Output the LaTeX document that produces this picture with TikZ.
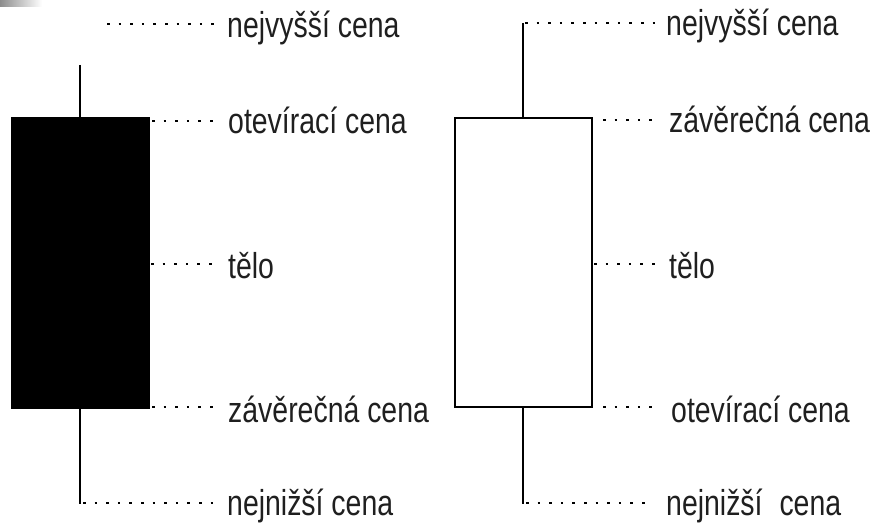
\documentclass[tikz,border=0pt]{standalone}
\usepackage{fontspec}
\newfontfamily\lblfont[FakeStretch=0.79]{Liberation Sans}
\begin{document}
\begin{tikzpicture}[x=1pt,y=-1pt,
  lbl/.style={font=\lblfont\fontsize{36}{40}\selectfont, anchor=base west, inner sep=0pt, text=black!88},
  dots/.style={line width=2pt, dash pattern=on 2.6pt off 9pt},
  wick/.style={line width=2pt},
  bodybox/.style={line width=2.4pt}]
\useasboundingbox (0,0) rectangle (881,524);
% corner artifact
\shade[left color=black!45, right color=white] (0,0) rectangle (42,7);

% ---- left (bearish) candle
\coordinate (Lwt) at (80,65);
\coordinate (Lwb) at (80,504);
\draw[wick] (Lwt) -- (Lwb);
\node[draw=black, fill=black, bodybox, minimum width=137pt, minimum height=290pt, inner sep=0pt] (Lbody) at (80.5,263) {};

\coordinate (La1) at (107,24);  \coordinate (La2) at (217,24);
\coordinate (Lb1) at (152,121); \coordinate (Lb2) at (216,121);
\coordinate (Lc1) at (151,264); \coordinate (Lc2) at (217,264);
\coordinate (Ld1) at (152,407); \coordinate (Ld2) at (216,407);
\coordinate (Le1) at (83,503);  \coordinate (Le2) at (217,503);
\foreach \p in {a,b,c,d,e}{\draw[dots] (L\p1) -- (L\p2);}

\node[lbl] (Lta) at (227,38)  {nejvyšší cena};
\node[lbl] (Ltb) at (228,134) {otevírací cena};
\node[lbl] (Ltc) at (228,278) {tělo};
\node[lbl] (Ltd) at (228,422) {závěrečná cena};
\node[lbl] (Lte) at (227,515) {nejnižší cena};

% ---- right (bullish) candle
\coordinate (Rwt) at (523,23);
\coordinate (Rwb) at (523,504);
\draw[wick] (Rwt) -- (Rwb);
\node[draw=black, fill=white, bodybox, minimum width=137pt, minimum height=289pt, inner sep=0pt] (Rbody) at (523.5,262.5) {};

\coordinate (Ra1) at (525,23);  \coordinate (Ra2) at (662,23);
\coordinate (Rb1) at (603,120); \coordinate (Rb2) at (658,120);
\coordinate (Rc1) at (594,264); \coordinate (Rc2) at (660,264);
\coordinate (Rd1) at (603,407); \coordinate (Rd2) at (658,407);
\coordinate (Re1) at (526,503); \coordinate (Re2) at (650,503);
\foreach \p in {a,b,c,d,e}{\draw[dots] (R\p1) -- (R\p2);}

\node[lbl] (Rta) at (666,36)  {nejvyšší cena};
\node[lbl] (Rtb) at (669,133) {závěrečná cena};
\node[lbl] (Rtc) at (669,278) {tělo};
\node[lbl] (Rtd) at (671,422) {otevírací cena};
\node[lbl] (Rte) at (666,515) {nejnižší\hspace{9pt} cena};
\end{tikzpicture}
\end{document}
